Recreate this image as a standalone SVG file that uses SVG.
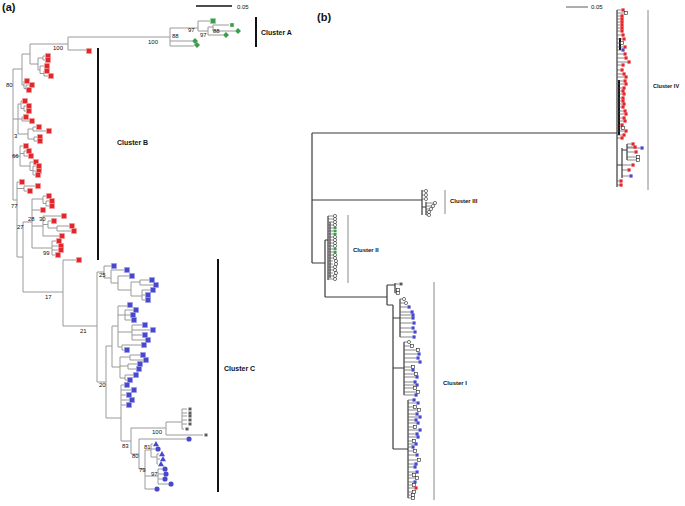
<svg xmlns="http://www.w3.org/2000/svg" xmlns:xlink="http://www.w3.org/1999/xlink" width="685" height="506" viewBox="0 0 685 506">
<style>
.t{font-family:"Liberation Sans",Arial,sans-serif;fill:#111}
.lab{font-size:6px}
.cl{font-size:7px;font-weight:bold}
.clb{font-size:6px;font-weight:bold}
.pl{font-size:11px;font-weight:bold}
.ta{fill:none;stroke:#9a9a9a;stroke-width:1}
.tb{fill:none;stroke:#3a3a3a;stroke-width:1.2}
.tbl{fill:none;stroke:#555;stroke-width:0.7}
.bar{stroke:#111;stroke-width:2}
.barb{stroke:#888;stroke-width:1}
</style>
<defs>
<rect id="rs" x="-2.6" y="-2.6" width="5.2" height="5.2" fill="#e3262b" stroke="#f4b0b0" stroke-width="0.5"/>
<rect id="bs" x="-2.6" y="-2.6" width="5.2" height="5.2" fill="#4848cc" stroke="#a8a8ee" stroke-width="0.5"/>
<rect id="gs" x="-2.6" y="-2.6" width="5.2" height="5.2" fill="#3c9e4c" stroke="#a8dcb0" stroke-width="0.5"/>
<polygon id="gd" points="0,-3 3,0 0,3 -3,0" fill="#3c9e4c"/>
<circle id="bc" r="2.6" fill="#4848cc"/>
<polygon id="bt" points="0,-3 3,2.3 -3,2.3" fill="#4848cc"/>
<path id="st" d="M-2 0H2M-1 -1.7L1 1.7M-1 1.7L1 -1.7" stroke="#333" stroke-width="0.8" fill="none"/>
<rect id="rs2" x="-1.6" y="-1.6" width="3.2" height="3.2" fill="#e3262b"/>
<rect id="bs2" x="-1.6" y="-1.6" width="3.2" height="3.2" fill="#4848cc"/>
<rect id="os2" x="-1.6" y="-1.6" width="3.2" height="3.2" fill="#fff" stroke="#222" stroke-width="0.6"/>
<circle id="oc2" r="1.6" fill="#fff" stroke="#222" stroke-width="0.6"/>
<rect id="gp2" x="-1.6" y="-1.2" width="3.2" height="2.4" fill="#3c9e4c"/>
</defs>
<rect width="685" height="506" fill="#fff"/>

<!-- panel labels and scale bars -->
<g id="panel-a-label"><text class="t pl" x="2" y="11">(a)</text></g>
<g id="panel-b-label"><text class="t pl" x="317" y="21">(b)</text></g>
<g id="scale-a"><line x1="196" y1="6" x2="232" y2="6" stroke="#111" stroke-width="1.5"/><text class="t lab" x="237" y="9">0.05</text></g>
<g id="scale-b"><line x1="566" y1="7" x2="588" y2="7" stroke="#333" stroke-width="0.8"/><text class="t lab" x="591" y="9">0.05</text></g>

<g id="connectors">
<!-- panel (a) tree -->
<path class="ta" d="M13 69V200M13 69H22M22 54V85M22 54H30M30 44V64M30 44H68M68 37V50M68 37H170M170 28V46M170 28H198M198 21V31M198 21H210M198 31H208M208 27V35M208 27H213M213 25V31M213 25H229M213 31H235M208 35H223M170 41H192M170 46H194M68 50H86
M30 64H38M38 58V70M38 58H43M43 56V60M43 56H45M43 60H45M38 70H40M40 66V73.5M40 66H44M40 73.5H44M44 71V76M44 71H45M44 76H48
M22 85H24M24 81V88.5M24 81H25M24 88.5H26M26 85V90M26 85H29M26 90H27
M13 119H18M18 104V134M18 104H21M21 101V108.5M21 101H22M21 108.5H24M24 106V111M24 106H26M24 111H26M18 119H22M22 117V121M22 117H23M22 121H29M18 134H28M28 129V139M28 129H33M33 127V131M33 127H36M33 131H46M28 139H34M34 137V141M34 137H37M34 141H37
M13 156H20M20 146V166M20 146H23M20 153.5H24M24 151V156M24 151H26M24 156H28M20 166H30M30 162V170.5M30 162H33M30 170.5H33M33 166V175M33 166H36M33 171H36M33 175H35
M13 200H17M17 182V257M17 182H19M17 188.5H24M24 186V191M24 186H35M24 191H27
M17 257H23M23 222V292M23 222H32M32 199V248M32 199H43M43 196V203.5M43 196H46M43 203.5H46M46 201V206M46 201H49M46 206H49M32 210H40M32 226H43M43 216V236M43 216H61M43 224.5H48M48 221V228M48 221H51M48 228H57M57 226V231M57 226H69M57 231H71M43 236H59M32 248H52M52 241V255M52 241H56M52 246H58M52 250H58M52 255H55
M23 292H63M63 260V326M63 260H76M63 326H97
M97 272V382M97 272H104M104 266V278M104 266H111M104 278H111M111 270V283M111 270H124M111 283H118M118 276V290M118 276H129M118 290H131M131 282V296M131 282H140M140 280V285M140 280H149M140 285H153M131 296H142M142 290V300M142 290H150M142 295H145M142 300H145
M97 382H106M106 346V418M106 346H112M112 326V367M112 326H118M118 306V347M118 306H127M118 315H125M125 310V320M125 310H133M125 315H130M125 320H131M118 332H132M132 325V340M132 325H142M132 330H150M132 335H142M132 340H145M118 347H122M122 345V350M122 345H141M122 350H124
M112 367H120M120 357V378M120 357H130M130 355V360M130 355H140M130 360H143M120 366H128M128 364V369M128 364H137M128 369H136M120 378H125M125 375V380M125 375H133M125 380H127
M106 418H121M121 385V441M121 385H124M121 390H131M121 395H126M121 400H129M121 405H126
M121 441H131M131 428V454M131 428H166M166 422V435M166 422H182M182 409V429M182 409H187M182 413H187M182 416H187M182 420H187M182 424H187M182 429H184M166 435H203
M131 454H139M139 439V469M139 439H186M139 469H145M145 450V489M145 450H151M151 444V457M151 444H153M151 449H155M151 457H157M157 454V464M157 454H159M157 459H160M157 464H158M145 476H158M158 469V484M158 469H162M158 474H163M158 479H162M158 484H168M145 489H154"/>

<!-- panel (b) tree -->
<path class="tb" d="M312 133V263M312 133H617M312 200H422M312 263H325M325 240V297M325 240H328M328 216V280M325 297H387M387 285V305M387 285H395M395 283V293M387 305H393M393 305V449M393 318H400M393 368H404M393 449H408M617 10V187M617 165H622M622 148V178M622 150H627M627 144V160M422 190V215M422 207H426M426 202V215"/>
<path class="tb" d="M330 222V278M400 299V337M404 342V395M408 400V498" stroke="#111" stroke-width="1.4"/>
<path d="M619 80V135M620 38V50" stroke="#111" stroke-width="2"/>
<path class="tbl" d="M328 216H333M328 219H333M328 222H333M328 225H333M328 228H333M328 231H333M328 234H333M328 237H333M328 240H333M328 243H333M328 246H333M328 249H333M328 252H333M328 255H333M328 258H333M328 261H333M328 264H333M328 267H333M328 270H333M328 273H333M328 276H333M328 279H333
M422 191H424M422 195H424M422 199H424M426 203H433M426 206H431M426 209H429M426 212H427M426 215H427
M395 284H399M395 290H396M395 293H396
M400 299H402M400 303H404M400 307H407M400 312H410M400 315H411M400 318H411M400 323H412M400 328H411M400 332H413M400 337H412
M404 342H407M404 346H410M404 350H416M404 354H417M404 358H416M404 362H418M404 367H411M404 370H411M404 374H414M404 377H415M404 382H413M404 385H415M404 388H413M404 392H416M404 395H414
M408 400H412M408 403H416M408 407H413M408 410H417M408 414H415M408 417H418M408 420H414M408 423H416M408 427H413M408 430H418M408 434H415M408 437H416M408 441H412M408 444H414M408 447H411M408 451H413M408 455H415M408 460H417M408 464H414M408 467H413M408 472H415M408 475H412M408 478H415M408 482H413M408 485H412M408 488H414M408 492H412M408 495H411M408 498H411
M617 10H621M617 13H624M617 16H620M617 19H620M617 22H620M617 25H620M617 28H620M617 31H620M617 35H621M617 39H622M617 43H620M617 47H623M617 50H621M617 54H623M617 58H624M617 62H627M617 65H621M617 70H620M617 74H622M617 77H624M617 81H623M617 84H624M617 88H622M617 91H621M617 94H622M617 98H621M617 101H621M617 104H622M617 107H621M617 111H623M617 114H624M617 118H622M617 121H623M617 125H620M617 128H621M617 131H624M617 135H622M617 138H620M617 181H619M617 185H619
M627 144H631M627 147H633M627 148H640M627 152H634M627 157H636M627 160H636M622 165H631M622 170H627M622 176H629"/>
</g>

<g id="cluster-bars">
<line class="bar" x1="256" y1="17" x2="256" y2="47"/>
<line class="bar" x1="98" y1="48" x2="98" y2="260"/>
<line class="bar" x1="218" y1="259" x2="218" y2="492"/>
<line class="barb" x1="648" y1="10" x2="648" y2="190"/>
<line class="barb" x1="445" y1="190" x2="445" y2="214"/>
<line class="barb" x1="348" y1="215" x2="348" y2="283"/>
<line class="barb" x1="434" y1="282" x2="434" y2="500"/>
</g>

<g id="bootstrap-labels" class="t lab">
<text x="53" y="50">100</text><text x="148" y="44">100</text><text x="172" y="38">88</text><text x="188" y="32">97</text><text x="200" y="37">97</text><text x="213" y="33">88</text>
<text x="6" y="87">80</text><text x="14" y="138">3</text><text x="12" y="158">66</text><text x="11" y="208">77</text><text x="17" y="229">27</text><text x="28" y="221">28</text><text x="39" y="221">30</text><text x="43" y="255">99</text>
<text x="45" y="299">17</text><text x="80" y="333">21</text><text x="99" y="277">25</text><text x="99" y="387">20</text><text x="152" y="434">100</text><text x="122" y="448">83</text><text x="132" y="458">80</text><text x="144" y="449">81</text><text x="139" y="472">79</text><text x="151" y="476">97</text>
</g>

<g id="cluster-labels">
<g id="cluster-a"><text class="t cl" x="261" y="35">Cluster A</text></g>
<g id="cluster-b"><text class="t cl" x="117" y="145">Cluster B</text></g>
<g id="cluster-c"><text class="t cl" x="224" y="371">Cluster C</text></g>
<g id="cluster-iv"><text class="t clb" x="653" y="88" style="font-size:5.6px">Cluster IV</text></g>
<g id="cluster-iii"><text class="t clb" x="450" y="203">Cluster III</text></g>
<g id="cluster-ii"><text class="t clb" x="353" y="252">Cluster II</text></g>
<g id="cluster-i"><text class="t clb" x="443" y="385">Cluster I</text></g>
</g>

<g id="leaves-a">
<use href="#gs" x="213" y="21"/><use href="#gs" x="232" y="25" transform="translate(232 25) scale(0.75) translate(-232 -25)"/><use href="#gd" x="238" y="31"/><use href="#gd" x="226" y="35"/><use href="#gd" x="195" y="41"/><use href="#gd" x="197" y="45"/>
<use href="#rs" x="89" y="51"/>
<use href="#rs" x="48" y="56"/><use href="#rs" x="48" y="60"/><use href="#rs" x="47" y="66"/><use href="#rs" x="47" y="71"/><use href="#rs" x="51" y="76"/>
<use href="#rs" x="27" y="81"/><use href="#rs" x="32" y="85"/><use href="#rs" x="29" y="90"/>
<use href="#rs" x="25" y="101"/><use href="#rs" x="29" y="106"/><use href="#rs" x="29" y="111"/><use href="#rs" x="26" y="117"/><use href="#rs" x="32" y="121"/>
<use href="#rs" x="39" y="127"/><use href="#rs" x="49" y="131"/><use href="#rs" x="40" y="137"/><use href="#rs" x="40" y="141"/>
<use href="#rs" x="26" y="146"/><use href="#rs" x="29" y="151"/><use href="#rs" x="31" y="156"/><use href="#rs" x="36" y="162"/><use href="#rs" x="39" y="166"/><use href="#rs" x="39" y="171"/><use href="#rs" x="38" y="175"/>
<use href="#rs" x="22" y="182"/><use href="#rs" x="38" y="186"/><use href="#rs" x="30" y="191"/>
<use href="#rs" x="49" y="196"/><use href="#rs" x="52" y="201"/><use href="#rs" x="52" y="206"/><use href="#rs" x="43" y="210"/>
<use href="#rs" x="64" y="216"/><use href="#rs" x="54" y="221"/><use href="#rs" x="72" y="226"/><use href="#rs" x="74" y="231"/><use href="#rs" x="62" y="236"/>
<use href="#rs" x="59" y="241"/><use href="#rs" x="61" y="246"/><use href="#rs" x="61" y="250"/><use href="#rs" x="58" y="255"/><use href="#rs" x="79" y="260"/>
<use href="#bs" x="114" y="266"/><use href="#bs" x="127" y="270"/><use href="#bs" x="132" y="276"/><use href="#bs" x="152" y="280"/><use href="#bs" x="156" y="285"/><use href="#bs" x="153" y="290"/><use href="#bs" x="148" y="295"/><use href="#bs" x="148" y="300"/>
<use href="#bs" x="130" y="305"/><use href="#bs" x="136" y="310"/><use href="#bs" x="133" y="315"/><use href="#bs" x="134" y="320"/><use href="#bs" x="145" y="325"/><use href="#bs" x="153" y="330"/><use href="#bs" x="145" y="335"/><use href="#bs" x="148" y="340"/><use href="#bs" x="144" y="345"/><use href="#bs" x="127" y="350"/>
<use href="#bs" x="143" y="355"/><use href="#bs" x="146" y="360"/><use href="#bs" x="140" y="364"/><use href="#bs" x="139" y="369"/><use href="#bs" x="136" y="375"/><use href="#bs" x="130" y="380"/>
<use href="#bs" x="127" y="385"/><use href="#bs" x="134" y="390"/><use href="#bs" x="129" y="395"/><use href="#bs" x="132" y="400"/><use href="#bs" x="129" y="405"/>
<use href="#st" x="190" y="409"/><use href="#st" x="190" y="413"/><use href="#st" x="190" y="416"/><use href="#st" x="190" y="420"/><use href="#st" x="190" y="424"/><use href="#st" x="187" y="429"/><use href="#st" x="206" y="435"/>
<use href="#bc" x="189" y="439"/><use href="#bt" x="156" y="444"/><use href="#bc" x="158" y="449"/><use href="#bt" x="162" y="454"/><use href="#bt" x="163" y="459"/><use href="#bt" x="161" y="464"/>
<use href="#bc" x="165" y="469"/><use href="#bc" x="166" y="474"/><use href="#bc" x="165" y="479"/><use href="#bc" x="171" y="484"/><use href="#bc" x="157" y="489"/>
</g>

<g id="leaves-b">
<use href="#oc2" x="335" y="216"/><use href="#oc2" x="335" y="219"/><use href="#oc2" x="335" y="222"/><use href="#oc2" x="335" y="225"/><use href="#gp2" x="335" y="228"/><use href="#gp2" x="335" y="231"/><use href="#gp2" x="335" y="234"/><use href="#oc2" x="335" y="237"/><use href="#oc2" x="335" y="240"/><use href="#oc2" x="335" y="243"/><use href="#oc2" x="335" y="246"/><use href="#gp2" x="335" y="249"/><use href="#gp2" x="335" y="252"/><use href="#oc2" x="335" y="255"/><use href="#oc2" x="335" y="258"/><use href="#oc2" x="336" y="261"/><use href="#oc2" x="336" y="264"/><use href="#oc2" x="335" y="267"/><use href="#oc2" x="335" y="270"/><use href="#oc2" x="336" y="273"/><use href="#oc2" x="335" y="276"/><use href="#oc2" x="335" y="279"/>
<use href="#oc2" x="426" y="191"/><use href="#oc2" x="426" y="195"/><use href="#oc2" x="426" y="199"/><use href="#oc2" x="435" y="203"/><use href="#oc2" x="433" y="206"/><use href="#oc2" x="431" y="209"/><use href="#oc2" x="429" y="212"/><use href="#oc2" x="429" y="215"/>
<use href="#st" x="401" y="284"/><use href="#os2" x="398" y="290"/><use href="#os2" x="398" y="293"/>
<use href="#oc2" x="404" y="299"/><use href="#oc2" x="406" y="303"/><use href="#bs2" x="409" y="307"/><use href="#bs2" x="412" y="312"/><use href="#bs2" x="413" y="315"/><use href="#bs2" x="413" y="318"/><use href="#bs2" x="414" y="323"/><use href="#bs2" x="413" y="328"/><use href="#bs2" x="415" y="332"/><use href="#bs2" x="414" y="337"/>
<use href="#oc2" x="409" y="342"/><use href="#os2" x="412" y="346"/><use href="#os2" x="418" y="350"/><use href="#bs2" x="419" y="354"/><use href="#bs2" x="418" y="358"/><use href="#bs2" x="420" y="362"/><use href="#os2" x="413" y="367"/><use href="#bs2" x="413" y="370"/><use href="#os2" x="416" y="374"/><use href="#bs2" x="417" y="377"/><use href="#bs2" x="415" y="382"/><use href="#bs2" x="417" y="385"/><use href="#os2" x="415" y="388"/><use href="#os2" x="418" y="392"/><use href="#bs2" x="416" y="395"/>
<use href="#bs2" x="414" y="400"/><use href="#bs2" x="418" y="403"/><use href="#os2" x="415" y="407"/><use href="#os2" x="419" y="410"/><use href="#bs2" x="417" y="414"/><use href="#bs2" x="420" y="417"/><use href="#bs2" x="416" y="420"/><use href="#bs2" x="418" y="423"/><use href="#os2" x="415" y="427"/><use href="#bs2" x="420" y="430"/><use href="#bs2" x="417" y="434"/><use href="#bs2" x="418" y="437"/><use href="#os2" x="414" y="441"/><use href="#bs2" x="416" y="444"/><use href="#bs2" x="413" y="447"/><use href="#os2" x="415" y="451"/><use href="#bs2" x="417" y="455"/><use href="#os2" x="419" y="460"/><use href="#bs2" x="416" y="464"/><use href="#bs2" x="415" y="467"/><use href="#bs2" x="417" y="472"/><use href="#os2" x="414" y="475"/><use href="#os2" x="417" y="478"/><use href="#bs2" x="415" y="482"/><use href="#os2" x="414" y="485"/><use href="#rs2" x="416" y="488"/><use href="#os2" x="414" y="492"/><use href="#os2" x="413" y="495"/><use href="#os2" x="413" y="498"/>
<use href="#rs2" x="623" y="10"/><use href="#os2" x="626" y="13"/><use href="#rs2" x="622" y="16"/><use href="#rs2" x="622" y="19"/><use href="#rs2" x="622" y="22"/><use href="#rs2" x="622" y="25"/><use href="#rs2" x="622" y="28"/><use href="#rs2" x="622" y="31"/><use href="#rs2" x="623" y="35"/><use href="#rs2" x="624" y="39"/><use href="#os2" x="622" y="43"/><use href="#rs2" x="625" y="47"/><use href="#bs2" x="623" y="50"/><use href="#rs2" x="625" y="54"/><use href="#rs2" x="626" y="58"/><use href="#rs2" x="629" y="62"/><use href="#rs2" x="623" y="65"/><use href="#rs2" x="622" y="70"/><use href="#rs2" x="624" y="74"/><use href="#rs2" x="626" y="77"/><use href="#rs2" x="625" y="81"/><use href="#rs2" x="626" y="84"/><use href="#rs2" x="624" y="88"/><use href="#rs2" x="623" y="91"/><use href="#rs2" x="624" y="94"/><use href="#rs2" x="623" y="98"/><use href="#rs2" x="623" y="101"/><use href="#rs2" x="624" y="104"/><use href="#rs2" x="623" y="107"/><use href="#rs2" x="625" y="111"/><use href="#rs2" x="626" y="114"/><use href="#rs2" x="624" y="118"/><use href="#rs2" x="625" y="121"/><use href="#rs2" x="622" y="125"/><use href="#os2" x="623" y="128"/><use href="#rs2" x="626" y="131"/><use href="#rs2" x="624" y="135"/><use href="#rs2" x="622" y="138"/>
<use href="#rs2" x="633" y="144"/><use href="#rs2" x="635" y="147"/><use href="#bs2" x="642" y="148"/><use href="#rs2" x="636" y="152"/><use href="#os2" x="638" y="157"/><use href="#os2" x="638" y="160"/><use href="#rs2" x="633" y="165"/><use href="#rs2" x="629" y="170"/><use href="#bs2" x="631" y="176"/><use href="#rs2" x="621" y="181"/><use href="#rs2" x="621" y="185"/>
</g>
</svg>
